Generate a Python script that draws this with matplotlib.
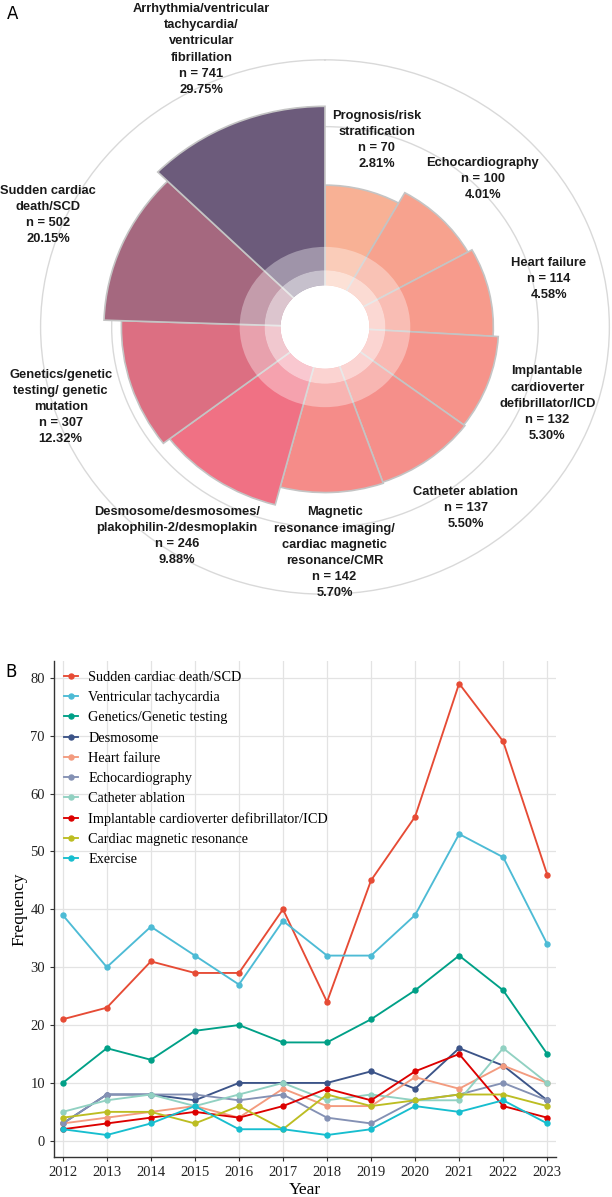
import numpy as np
import matplotlib.pyplot as plt

# panel A: topics and article counts (clockwise from 12 o'clock)
topics = ["Prognosis/risk\nstratification",
          "Echocardiography",
          "Heart failure",
          "Implantable\ncardioverter\ndefibrillator/ICD",
          "Catheter ablation",
          "Magnetic\nresonance imaging/\ncardiac magnetic\nresonance/CMR",
          "Desmosome/desmosomes/\nplakophilin-2/desmoplakin",
          "Genetics/genetic\ntesting/ genetic\nmutation",
          "Sudden cardiac\ndeath/SCD",
          "Arrhythmia/ventricular\ntachycardia/\nventricular\nfibrillation"]
counts = [70, 100, 114, 132, 137, 142, 246, 307, 502, 741]
bar_colors = ["#F8B195", "#F7A28E", "#F79B8C", "#F6938A", "#F58F8A",
              "#F58C89", "#F07184", "#DC6F82", "#A5687F", "#6C5B7B"]

# panel B: yearly frequencies
years = list(range(2012, 2024))
scd = [21, 23, 31, 29, 29, 40, 24, 45, 56, 79, 69, 46]
vt = [39, 30, 37, 32, 27, 38, 32, 32, 39, 53, 49, 34]
genetics = [10, 16, 14, 19, 20, 17, 17, 21, 26, 32, 26, 15]
desmosome = [3, 8, 8, 7, 10, 10, 10, 12, 9, 16, 13, 7]
heart_failure = [3, 4, 5, 6, 4, 9, 6, 6, 11, 9, 13, 10]
echo = [3, 8, 8, 8, 7, 8, 4, 3, 7, 8, 10, 7]
ablation = [5, 7, 8, 6, 8, 10, 7, 8, 7, 7, 16, 10]
icd = [2, 3, 4, 5, 4, 6, 9, 7, 12, 15, 6, 4]
cmr = [4, 5, 5, 3, 6, 2, 8, 6, 7, 8, 8, 6]
exercise = [2, 1, 3, 6, 2, 2, 1, 2, 6, 5, 7, 3]

series = [("Sudden cardiac death/SCD", scd, "#E64B35"),
          ("Ventricular tachycardia", vt, "#4DBBD5"),
          ("Genetics/Genetic testing", genetics, "#00A087"),
          ("Desmosome", desmosome, "#3C5488"),
          ("Heart failure", heart_failure, "#F39B7F"),
          ("Echocardiography", echo, "#8491B4"),
          ("Catheter ablation", ablation, "#91D1C2"),
          ("Implantable cardioverter defibrillator/ICD", icd, "#DC0000"),
          ("Cardiac magnetic resonance", cmr, "#BCBD22"),
          ("Exercise", exercise, "#17BECF")]

fig = plt.figure(figsize=(6.12, 11.97), dpi=100)

# ---- B: yearly trend (drawn first so panel A labels stay on top)
axB = fig.add_axes([0.0882, 0.0334, 0.8203, 0.4144])
for label, vals, col in series:
    axB.plot(years, vals, '-o', color=col, lw=1.35, ms=3.6, label=label)

axB.set_xlim(2011.8, 2023.2)
axB.set_ylim(-2.8, 82.9)
axB.set_xticks(years)
axB.set_yticks(range(0, 81, 10))
axB.grid(True, color='#E3E3E3', linewidth=0.9)
axB.set_axisbelow(True)
for side in ['top', 'right']:
    axB.spines[side].set_visible(False)
for side in ['left', 'bottom']:
    axB.spines[side].set_color('#333333')
    axB.spines[side].set_linewidth(1)
axB.tick_params(colors='#333333', labelsize=10.5, length=3, width=0.8)
for t in axB.get_xticklabels() + axB.get_yticklabels():
    t.set_family('Liberation Serif')
    t.set_color('#222222')
axB.set_xlabel('Year', fontsize=12.5, family='Liberation Serif', labelpad=2)
axB.set_ylabel('Frequency', fontsize=12.5, family='Liberation Serif', labelpad=2)

axB.legend(loc='upper left', frameon=False, numpoints=1,
           prop={'family': 'Liberation Serif', 'size': 10.3},
           handlelength=1.0, handletextpad=0.7, labelspacing=0.5,
           borderpad=0.2, borderaxespad=0.5)

# ---- A: rose chart, radius and angle both ~ log(n)
axA = fig.add_axes([0.0605, 0.5008, 0.941, 0.452], projection='polar')
axA.set_aspect('auto')
axA.set_theta_zero_location('N')
axA.set_theta_direction(-1)
axA.patch.set_alpha(0)

logc = np.log(counts)
widths = 2 * np.pi * logc / logc.sum()
starts = np.concatenate([[0], np.cumsum(widths)[:-1]])
axA.bar(starts, logc, width=widths, align='edge', color=bar_colors,
        edgecolor='#C4C4C4', linewidth=1.2, zorder=2)

# whitish rings around the hole
axA.bar(0, 1.25, width=2 * np.pi, bottom=0, color='white', linewidth=0, zorder=3)
axA.bar(0, 0.45, width=2 * np.pi, bottom=1.25, color='white', alpha=0.62,
        linewidth=0, zorder=3)
axA.bar(0, 0.7, width=2 * np.pi, bottom=1.7, color='white', alpha=0.35,
        linewidth=0, zorder=3)

axA.set_ylim(0, 8.1)
axA.set_xticks([])
axA.set_rgrids([6, 8])
axA.set_yticklabels([])
axA.yaxis.grid(True, color='#D9D9D9', linewidth=1)
axA.spines['polar'].set_visible(False)
axA.set_axisbelow(True)

total = sum(counts)
for name, c, s, w in zip(topics, counts, starts, widths):
    axA.text(s + w / 2, 1.36 * np.log(c) + 0.02,
             "%s\nn = %d\n%.2f%%" % (name, c, 100.0 * c / total),
             ha='center', va='center', fontsize=9.3, fontweight='bold',
             family='Liberation Sans', linespacing=1.45, color='#1a1a1a',
             zorder=5)

fig.text(0.012, 0.9955, 'A', fontsize=12, va='top', ha='left', family='DejaVu Sans')
fig.text(0.008, 0.4465, 'B', fontsize=12, va='top', ha='left', family='DejaVu Sans')

fig.savefig('out.png', dpi=100)
